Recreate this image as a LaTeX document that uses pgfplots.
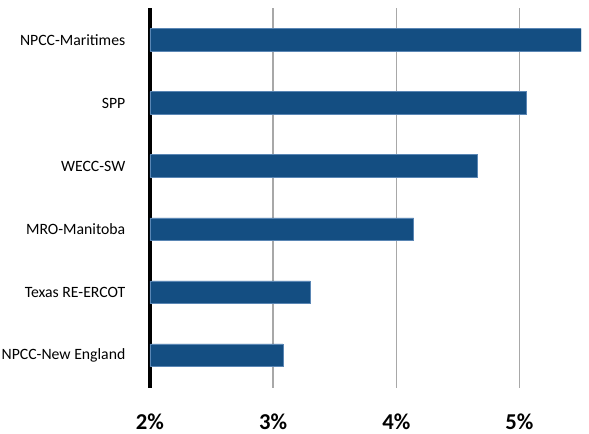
\documentclass[border=0pt]{standalone}
\usepackage{pgfplots}
\pgfplotsset{compat=1.18}
\usepackage{fontspec}
\setmainfont{Carlito}
\definecolor{barblue}{HTML}{144E82}
\definecolor{baredge}{HTML}{5A86B4}
\definecolor{gridgray}{HTML}{A8A8A8}
\begin{document}
\begin{tikzpicture}[x=1pt,y=1pt]
\useasboundingbox (-112.5,-34.5) rectangle (329.25,291);
\begin{axis}[
  at={(0pt,0pt)}, anchor=south west,
  scale only axis, width=323.25pt, height=285pt,
  xbar, bar width=17pt,
  xmin=2, xmax=5.5, ymin=-0.52, ymax=5.51,
  ytick={0,1,2,3,4,5},
  yticklabels={NPCC-New England, Texas RE-ERCOT, MRO-Manitoba, WECC-SW, SPP, NPCC-Maritimes},
  xtick={2,3,4,5},
  xticklabels={2\%,3\%,4\%,5\%},
  major tick length=0pt,
  xmajorgrids, grid style={draw=gridgray, line width=1.1pt},
  separate axis lines,
  axis x line*=bottom, axis y line*=left,
  x axis line style={draw=none},
  y axis line style={draw=black, line width=2.6pt},
  xticklabel style={font=\fontsize{17}{18}\selectfont\bfseries, yshift=-16pt},
  yticklabel style={font=\fontsize{11.8}{13}\selectfont, xshift=-15pt},
  axis on top=false,
]
\addplot[fill=barblue, draw=baredge, line width=0.5pt] coordinates {
  (3.08,0) (3.30,1) (4.14,2) (4.66,3) (5.06,4) (5.50,5)
};
\end{axis}
\end{tikzpicture}
\end{document}
